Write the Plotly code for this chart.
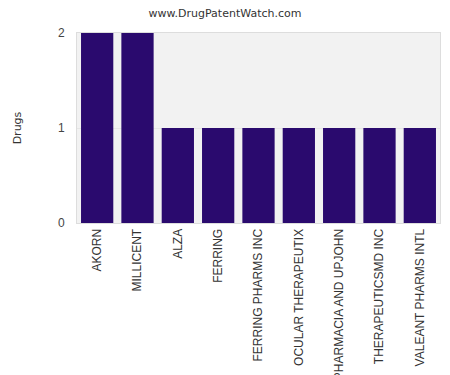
import plotly.graph_objects as go

companies = ["AKORN", "MILLICENT", "ALZA", "FERRING", "FERRING PHARMS INC",
             "OCULAR THERAPEUTIX", "PHARMACIA AND UPJOHN", "THERAPEUTICSMD INC",
             "VALEANT PHARMS INTL"]
drugs = [2, 2, 1, 1, 1, 1, 1, 1, 1]

fig = go.Figure(go.Bar(x=companies, y=drugs, marker=dict(color="#2a0a6e", line=dict(width=0))))

fig.update_layout(
    width=450, height=375,
    margin=dict(l=77, r=10, t=33, b=152),
    paper_bgcolor="white",
    plot_bgcolor="#f2f2f2",
    bargap=0.2,
    title=dict(text="www.DrugPatentWatch.com", x=0.5, xanchor="center", y=0.975, yanchor="top",
               font=dict(family="DejaVu Sans", size=11, color="#333")),
    font=dict(family="Liberation Sans", size=12, color="#444"),
    showlegend=False,
)
fig.update_xaxes(tickangle=-90, showgrid=False, showline=True, linecolor="#ddd", mirror=True,
                 ticks="", automargin=False,
                 tickfont=dict(family="Liberation Sans", size=12, color="#333"))
fig.update_yaxes(range=[0, 2], tickvals=[0, 1, 2], showgrid=True, gridcolor="#e6e6e6",
                 showline=True, linecolor="#ddd", mirror=True, zeroline=False,
                 ticks="", ticklen=0, automargin=False, ticklabelstandoff=9,
                 title=dict(text="Drugs", standoff=34, font=dict(family="DejaVu Sans", size=11, color="#333")),
                 tickfont=dict(family="Liberation Sans", size=12, color="#444"))

fig.write_html("out.html")
